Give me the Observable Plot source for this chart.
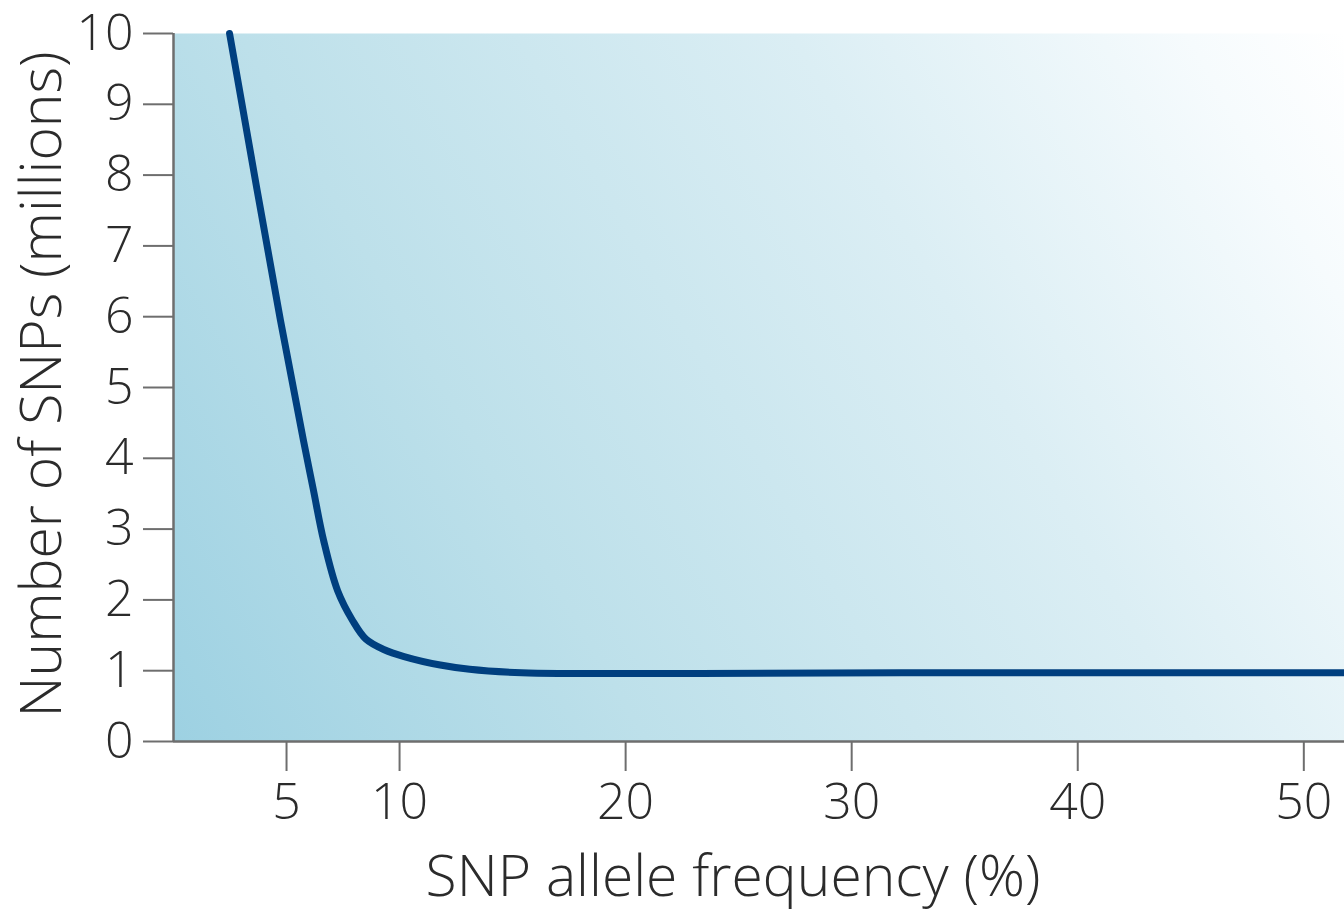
<!DOCTYPE html>
<html>
<head>
<meta charset="utf-8">
<script src="https://cdn.jsdelivr.net/npm/d3@7"></script>
<script src="https://cdn.jsdelivr.net/npm/@observablehq/plot@0.6"></script>
<style>
  html, body { margin: 0; padding: 0; background: #fff; }
  svg { display: block; }
</style>
</head>
<body>
<div id="chart"></div>
<script>
// SNP allele frequency (%) and number of SNPs (millions)
const frequency = [2.48, 4.73, 5.75, 6.19, 6.64, 7.26, 7.92, 8.50, 9.30, 10.2, 11.8, 13.1, 15.4, 17.6, 23.3, 32.2, 41.0, 51.8];
const snps      = [10.0, 5.95, 4.25, 3.55, 2.84, 2.13, 1.71, 1.45, 1.30, 1.20, 1.08, 1.02, 0.97, 0.96, 0.96, 0.97, 0.97, 0.97];
const xTicks = [5, 10, 20, 30, 40, 50];
const yTicks = [0, 1, 2, 3, 4, 5, 6, 7, 8, 9, 10];
const xLabel = "SNP allele frequency (%)";
const yLabel = "Number of SNPs (millions)";

const data = frequency.map((f, i) => ({f, n: snps[i]}));

const font = "'Open Sans', 'DejaVu Sans', sans-serif";

// gradient defs as a custom mark
function gradientDefs(index, scales, values, dim) {
  const x0 = dim.marginLeft, y0 = dim.height - dim.marginBottom;
  const x1 = dim.width - dim.marginRight, y1 = dim.marginTop;
  const ux = 0.867, uy = -0.4985;
  const len = (x1 - x0) * ux + (y1 - y0) * uy;
  const ns = "http://www.w3.org/2000/svg";
  const defs = document.createElementNS(ns, "defs");
  const g = document.createElementNS(ns, "linearGradient");
  g.setAttribute("id", "bg");
  g.setAttribute("gradientUnits", "userSpaceOnUse");
  g.setAttribute("x1", x0); g.setAttribute("y1", y0);
  g.setAttribute("x2", x0 + len * ux); g.setAttribute("y2", y0 + len * uy);
  [[0, "#9dd1e2"], [0.3, "#bde0ea"], [0.65, "#dbeef4"], [0.9, "#f6fbfd"], [1, "#ffffff"]].forEach(([o, c]) => {
    const s = document.createElementNS(ns, "stop");
    s.setAttribute("offset", o); s.setAttribute("stop-color", c);
    g.appendChild(s);
  });
  defs.appendChild(g);
  return defs;
}

const chart = Plot.plot({
  width: 1344,
  height: 912,
  marginLeft: 173,
  marginRight: 0,
  marginTop: 33,
  marginBottom: 171,
  style: {fontFamily: font, background: "#fff", overflow: "visible"},
  x: {domain: [0, 51.8]},
  y: {domain: [0, 10]},
  marks: [
    gradientDefs,
    Plot.frame({fill: "url(#bg)", stroke: null}),
    Plot.axisY({ticks: yTicks, tickSize: 30, tickPadding: 10, fontSize: 50, fontWeight: 300,
      stroke: "#6e6e6e", strokeWidth: 2, fill: "#2b2b2b", tickFormat: d => String(d), label: null}),
    Plot.axisX({ticks: xTicks, tickSize: 30, tickPadding: 12, fontSize: 50, fontWeight: 300,
      stroke: "#6e6e6e", strokeWidth: 2, fill: "#2b2b2b", tickFormat: d => String(d), label: null}),
    Plot.ruleX([0], {stroke: "#6e6e6e", strokeWidth: 2.5}),
    Plot.ruleY([0], {stroke: "#6e6e6e", strokeWidth: 2.5}),
    Plot.line(data, {x: "f", y: "n", stroke: "#003f7f", strokeWidth: 7, curve: "catmull-rom"}),
    Plot.text([xLabel], {frameAnchor: "bottom", textAnchor: "middle", lineAnchor: "middle", dx: -26, dy: 136, fontSize: 57, fontWeight: 300, fill: "#2b2b2b"}),
    Plot.text([yLabel], {frameAnchor: "left", textAnchor: "middle", lineAnchor: "middle", rotate: -90, dx: -131, dy: -3, fontSize: 57, fontWeight: 300, fill: "#2b2b2b"})
  ]
});
document.getElementById("chart").appendChild(chart);
</script>
</body>
</html>
